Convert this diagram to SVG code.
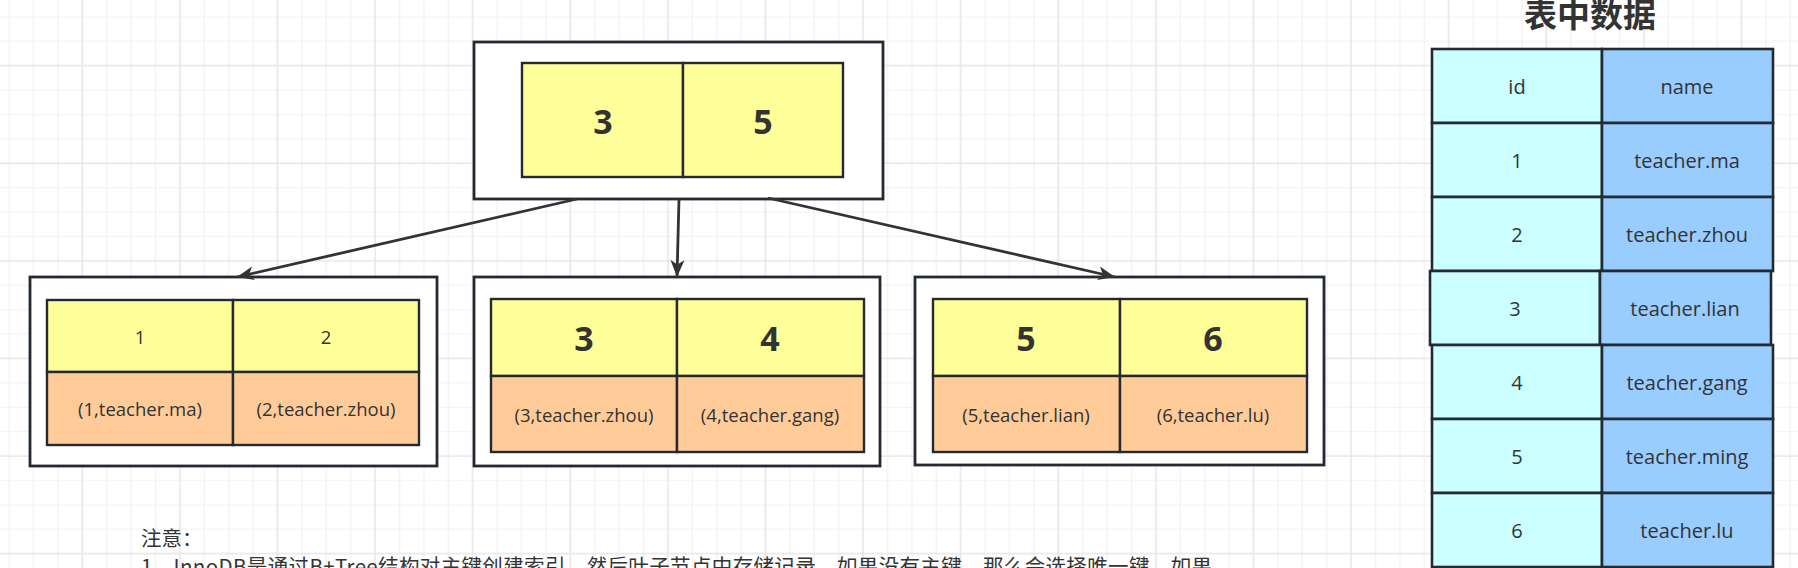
<svg xmlns="http://www.w3.org/2000/svg" width="1798" height="568" viewBox="0 0 1798 568">
<defs>
<pattern id="grid" patternUnits="userSpaceOnUse" x="70.1" y="53.5" width="97.6" height="97.6">
<path d="M36.6,0V97.6M61,0V97.6M85.4,0V97.6M0,36.6H97.6M0,61H97.6M0,85.4H97.6" stroke="#f1f1f1" stroke-width="1.2" fill="none"/>
<path d="M12.2,0V97.6M0,12.2H97.6" stroke="#e6e6e6" stroke-width="1.5" fill="none"/>
</pattern>
<marker id="arrow" markerUnits="userSpaceOnUse" markerWidth="18" markerHeight="16" refX="17" refY="8" orient="auto">
<path d="M0,1 L17,8 L0,15 L4.5,8 Z" fill="#333333"/>
</marker>
<style>
.box{fill:#ffffff;stroke:#232a31;stroke-width:2.8}
.key{fill:#ffff99;stroke:#232a31;stroke-width:2.4}
.rec{fill:#ffcc99;stroke:#232a31;stroke-width:2.4}
.idc{fill:#ccffff;stroke:#232a31;stroke-width:2.6}
.nmc{fill:#99ccff;stroke:#232a31;stroke-width:2.6}
.big{font-family:"Open Sans","Noto Sans",sans-serif;font-size:34px;font-weight:bold;fill:#333333;text-anchor:middle;dominant-baseline:central}
.sm{font-family:"Open Sans","Noto Sans",sans-serif;font-size:18.5px;fill:#333333;text-anchor:middle;dominant-baseline:central}
.tb{font-family:"Open Sans","Noto Sans",sans-serif;font-size:20px;fill:#333333;text-anchor:middle;dominant-baseline:central}
.title{font-family:"Noto Sans CJK SC",sans-serif;font-size:33px;font-weight:bold;fill:#333333;text-anchor:middle}
.note{font-family:"Noto Sans CJK SC",sans-serif;font-size:20.5px;fill:#333333}
.conn{stroke:#333333;stroke-width:2.8;fill:none;marker-end:url(#arrow)}
</style>
</defs>
<rect width="1798" height="568" fill="#ffffff"/>
<rect width="1798" height="568" fill="url(#grid)"/>

<g id="root-node">
<rect class="box" x="474" y="42" width="409" height="157"/>
<rect class="key" x="522" y="63" width="161" height="114"/>
<rect class="key" x="683" y="63" width="160" height="114"/>
<text class="big" x="603" y="121">3</text>
<text class="big" x="763" y="121">5</text>
</g>

<g id="leaf-1">
<rect class="box" x="30" y="277" width="407" height="189"/>
<rect class="key" x="47" y="300" width="186" height="72"/>
<rect class="key" x="233" y="300" width="186" height="72"/>
<rect class="rec" x="47" y="372" width="186" height="73"/>
<rect class="rec" x="233" y="372" width="186" height="73"/>
<text class="sm" x="140" y="336">1</text>
<text class="sm" x="326" y="336">2</text>
<text class="sm" x="140" y="408.5">(1,teacher.ma)</text>
<text class="sm" x="326" y="408.5">(2,teacher.zhou)</text>
</g>

<g id="leaf-2">
<rect class="box" x="474" y="277" width="406" height="189"/>
<rect class="key" x="491" y="299" width="186" height="77"/>
<rect class="key" x="677" y="299" width="187" height="77"/>
<rect class="rec" x="491" y="376" width="186" height="76"/>
<rect class="rec" x="677" y="376" width="187" height="76"/>
<text class="big" x="584" y="338">3</text>
<text class="big" x="770" y="338">4</text>
<text class="sm" x="584" y="414">(3,teacher.zhou)</text>
<text class="sm" x="770" y="414">(4,teacher.gang)</text>
</g>

<g id="leaf-3">
<rect class="box" x="915" y="277" width="409" height="188"/>
<rect class="key" x="933" y="299" width="187" height="77"/>
<rect class="key" x="1120" y="299" width="187" height="77"/>
<rect class="rec" x="933" y="376" width="187" height="76"/>
<rect class="rec" x="1120" y="376" width="187" height="76"/>
<text class="big" x="1026" y="338">5</text>
<text class="big" x="1213" y="338">6</text>
<text class="sm" x="1026" y="414">(5,teacher.lian)</text>
<text class="sm" x="1213" y="414">(6,teacher.lu)</text>
</g>

<g id="connectors">
<line class="conn" x1="577" y1="199" x2="237" y2="277"/>
<line class="conn" x1="679" y1="199" x2="677" y2="277"/>
<line class="conn" x1="768" y1="198" x2="1115" y2="277"/>
</g>

<g id="table">
<text class="title" x="1590" y="27">表中数据</text>
<g id="row-header">
<rect class="idc" x="1432" y="49" width="170" height="74"/>
<rect class="nmc" x="1602" y="49" width="171" height="74"/>
<text class="tb" x="1517" y="86">id</text>
<text class="tb" x="1687" y="86">name</text>
</g>
<g id="row-1">
<rect class="idc" x="1432" y="123" width="170" height="74"/>
<rect class="nmc" x="1602" y="123" width="171" height="74"/>
<text class="tb" x="1517" y="160">1</text>
<text class="tb" x="1687" y="160">teacher.ma</text>
</g>
<g id="row-2">
<rect class="idc" x="1432" y="197" width="170" height="74"/>
<rect class="nmc" x="1602" y="197" width="171" height="74"/>
<text class="tb" x="1517" y="234">2</text>
<text class="tb" x="1687" y="234">teacher.zhou</text>
</g>
<g id="row-3">
<rect class="idc" x="1430" y="271" width="170" height="74"/>
<rect class="nmc" x="1600" y="271" width="171" height="74"/>
<text class="tb" x="1515" y="308">3</text>
<text class="tb" x="1685" y="308">teacher.lian</text>
</g>
<g id="row-4">
<rect class="idc" x="1432" y="345" width="170" height="74"/>
<rect class="nmc" x="1602" y="345" width="171" height="74"/>
<text class="tb" x="1517" y="382">4</text>
<text class="tb" x="1687" y="382">teacher.gang</text>
</g>
<g id="row-5">
<rect class="idc" x="1432" y="419" width="170" height="74"/>
<rect class="nmc" x="1602" y="419" width="171" height="74"/>
<text class="tb" x="1517" y="456">5</text>
<text class="tb" x="1687" y="456">teacher.ming</text>
</g>
<g id="row-6">
<rect class="idc" x="1432" y="493" width="170" height="74"/>
<rect class="nmc" x="1602" y="493" width="171" height="74"/>
<text class="tb" x="1517" y="530">6</text>
<text class="tb" x="1687" y="530">teacher.lu</text>
</g>
</g>

<g id="note">
<text class="note" x="141" y="546">注意：</text>
<text class="note" x="141" y="574" textLength="1071" lengthAdjust="spacing">1、InnoDB是通过B+Tree结构对主键创建索引，然后叶子节点中存储记录，如果没有主键，那么会选择唯一键，如果</text>
</g>
</svg>
